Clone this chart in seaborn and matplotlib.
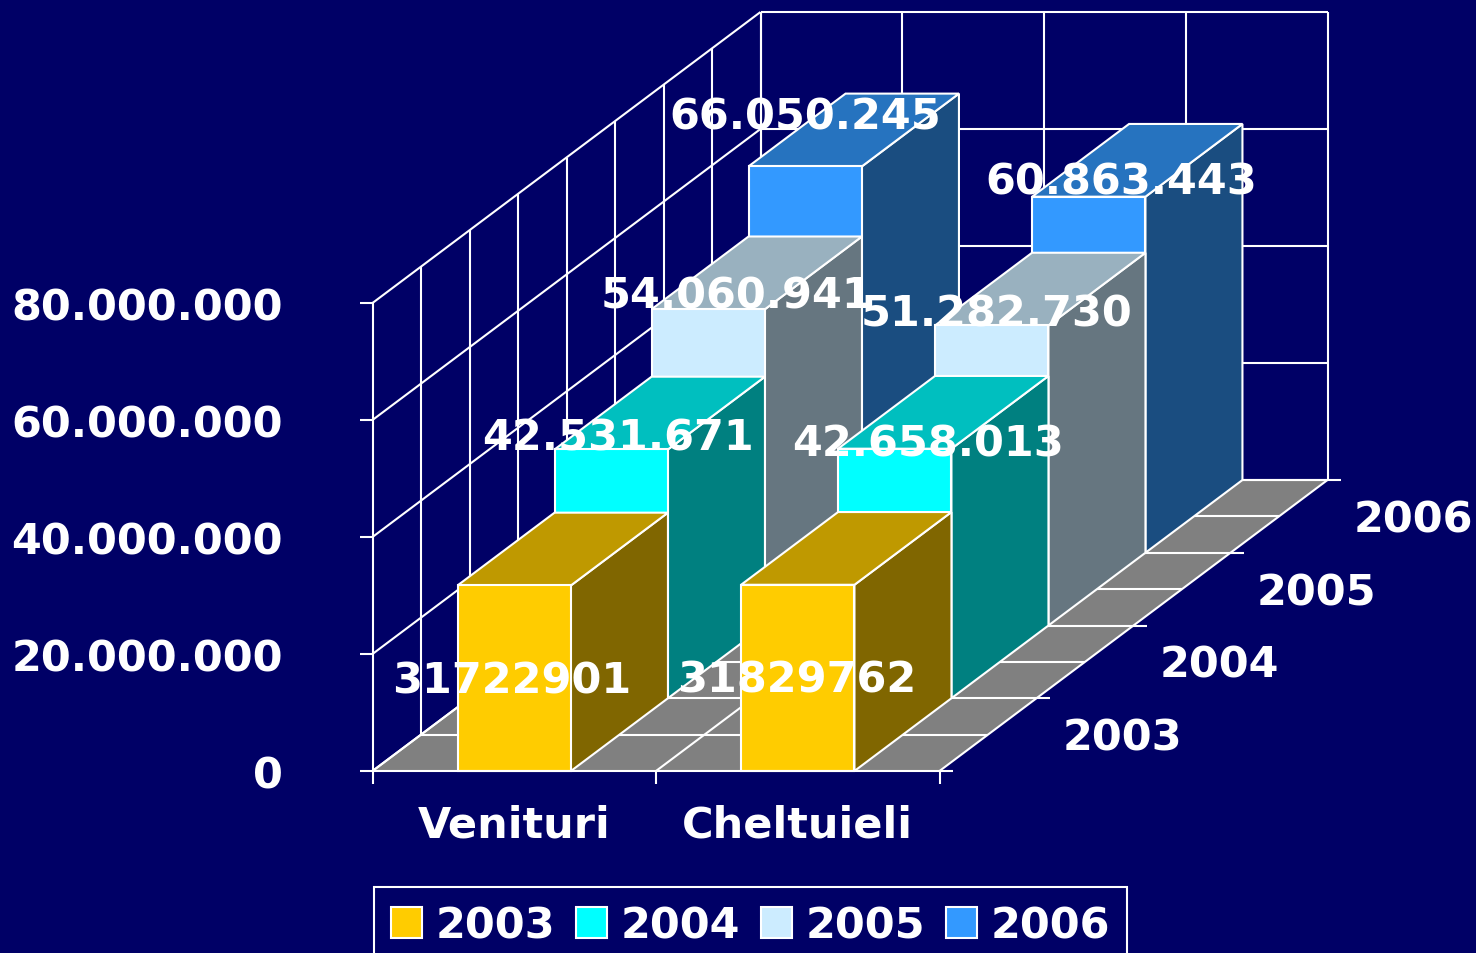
import matplotlib
matplotlib.use('Agg')
import matplotlib.pyplot as plt
from matplotlib.patches import Polygon, Patch
from matplotlib.transforms import Affine2D
import seaborn as sns
import pandas as pd
import numpy as np

categories = ['Venituri', 'Cheltuieli']
years = ['2003', '2004', '2005', '2006']
venituri = [31722901, 42531671, 54060941, 66050245]
cheltuieli = [31829762, 42658013, 51282730, 60863443]
yticks = [0, 20000000, 40000000, 60000000, 80000000]
year_colors = ['#FFCC00', '#00FFFF', '#CCECFF', '#3399FF']

NAVY = '#000066'
FONT = 'DejaVu Sans'
FS = 31
LW = 1.5

sns.set_theme(style='white')
plt.rcParams['font.family'] = [FONT]
plt.rcParams['font.weight'] = 'bold'

palette = sns.color_palette(year_colors)

df = pd.DataFrame({
    'categorie': categories * 4,
    'an': [y for y in years for _ in categories],
    'valoare': [v for pair in zip(venituri, cheltuieli) for v in pair],
})

fig = plt.figure(figsize=(14.76, 9.54), dpi=100, facecolor=NAVY)
ax = fig.add_axes([372.5 / 1476, 1 - 772 / 954, 567 / 1476, 468 / 954])
ax.set_facecolor('none')

# one step back in depth, in data units of the front plane
KX = 97 / 283.5
KY = 72.75 / 5.85e-6


def xy(c, d, v):
    return (c + d * KX, v + d * KY)


def shade(col, k):
    return tuple(np.array(col) * k)


def wall_line(p0, p1, z=0.5):
    ax.plot([p0[0], p1[0]], [p0[1], p1[1]], color='white', lw=LW, zorder=z,
            clip_on=False, solid_capstyle='butt')


# floor
ax.add_patch(Polygon([xy(-.5, 0, 0), xy(1.5, 0, 0), xy(1.5, 4, 0), xy(-.5, 4, 0)],
                     facecolor='#808080', edgecolor='none', zorder=0.3, clip_on=False))
for d in np.arange(0.5, 4.5, 0.5):
    wall_line(xy(-.5, d, 0), xy(1.5, d, 0))
wall_line(xy(.5, 0, 0), xy(.5, 4, 0))
wall_line(xy(-.5, 0, 0), xy(-.5, 4, 0))
wall_line(xy(1.5, 0, 0), xy(1.5, 4, 0))

# side wall and back wall
for v in yticks:
    wall_line(xy(-.5, 0, v), xy(-.5, 4, v))
    wall_line(xy(-.5, 4, v), xy(1.5, 4, v))
for d in np.arange(0.5, 4.5, 0.5):
    wall_line(xy(-.5, d, 0), xy(-.5, d, yticks[-1]))
for c in np.arange(-.5, 2, .5):
    wall_line(xy(c, 4, 0), xy(c, 4, yticks[-1]))

# depth ticks on the right of the floor
for d in range(5):
    p = xy(1.5, d, 0)
    wall_line(p, (p[0] + 13 / 283.5, p[1]), z=0.6)

# bars, back row first
for i in range(3, -1, -1):
    col = palette[i]
    row = df[df['an'] == years[i]]
    for c, val in enumerate(row['valoare']):
        x0, x1 = c - .2, c + .2
        ax.add_patch(Polygon([xy(x1, i, 0), xy(x1, i + 1, 0), xy(x1, i + 1, val), xy(x1, i, val)],
                             facecolor=shade(col, .5), edgecolor='white', lw=LW, clip_on=False, zorder=1))
        ax.add_patch(Polygon([xy(x0, i, val), xy(x1, i, val), xy(x1, i + 1, val), xy(x0, i + 1, val)],
                             facecolor=shade(col, .75), edgecolor='white', lw=LW, clip_on=False, zorder=1))
    step = Affine2D().translate(i * KX, i * KY) + ax.transData
    sns.barplot(data=row, x='categorie', y='valoare', order=categories, color=col,
                saturation=1, width=.4, edgecolor='white', linewidth=LW,
                errorbar=None, ax=ax, transform=step, clip_on=False, zorder=1)

ax.set_xlim(-.5, 1.5)
ax.set_ylim(0, yticks[-1])
ax.set_xlabel('')
ax.set_ylabel('')

for s in ['top', 'right']:
    ax.spines[s].set_visible(False)
for s in ['left', 'bottom']:
    ax.spines[s].set_color('white')
    ax.spines[s].set_linewidth(LW)

ax.set_yticks(yticks)
ax.set_yticklabels([f'{v:,}'.replace(',', '.') for v in yticks], fontsize=FS, color='white', fontweight='bold')
ax.tick_params(axis='y', left=True, length=9.4, width=LW, color='white', pad=55)
ax.set_xticks([-.5, .5, 1.5])
ax.set_xticklabels([])
ax.set_xticks([0, 1], minor=True)
ax.set_xticklabels(categories, minor=True, fontsize=FS, color='white', fontweight='bold')
ax.tick_params(axis='x', which='major', bottom=True, length=9.4, width=LW, color='white')
ax.tick_params(axis='x', which='minor', bottom=False, length=0, pad=23.5)

# year labels beside the floor
for i, y in enumerate(years):
    ax.annotate(y, xy(1.97, i + .5, 0), xytext=(1, -3), textcoords='offset pixels', ha='center', va='center',
                fontsize=FS, color='white', fontweight='bold', zorder=6, annotation_clip=False)

# value labels were placed by hand in the original
offs_v = [(-3, -95), (7, 12), (28, 14), (0, 50)]
offs_c = [(-1, -95), (33, 5), (5, 12), (33, 15)]
for c, (vals, offs) in enumerate([(venituri, offs_v), (cheltuieli, offs_c)]):
    for i, val in enumerate(vals):
        txt = str(val) if i == 0 else f'{val:,}'.replace(',', '.')
        ax.annotate(txt, xy(c, i, val), xytext=offs[i], textcoords='offset pixels',
                    ha='center', va='center', fontsize=FS, color='white',
                    fontweight='bold', zorder=7, annotation_clip=False)

handles = [Patch(facecolor=palette[i], edgecolor='white', lw=LW, label=years[i]) for i in range(4)]
leg = ax.legend(handles=handles, ncol=4, loc='upper left', bbox_to_anchor=(374 / 1476, 1 - 888 / 954),
                bbox_transform=fig.transFigure, borderaxespad=0, frameon=True, fancybox=False,
                facecolor=NAVY, edgecolor='white', framealpha=1, fontsize=FS,
                handlelength=.72, handleheight=.72, handletextpad=.3, columnspacing=.5, borderpad=.4)
leg.get_frame().set_linewidth(LW)
for t in leg.get_texts():
    t.set_color('white')
    t.set_fontweight('bold')

fig.savefig('out.png', dpi=100, facecolor=NAVY)
